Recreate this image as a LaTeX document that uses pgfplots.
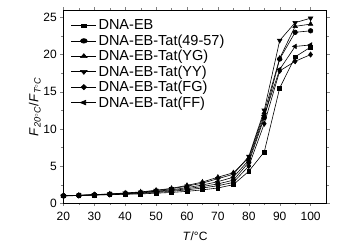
\documentclass[border=0pt]{standalone}
\usepackage{pgfplots}
\pgfplotsset{compat=1.18}
\usepackage{fontspec}
\setmainfont{Liberation Sans}
\setsansfont{Liberation Sans}
\begin{document}
\begin{tikzpicture}
\begin{axis}[name=ax,
  scale only axis, width=263pt, height=193pt,
  xmin=20, xmax=105.2, ymin=0, ymax=26,
  xtick={20,30,...,100}, ytick={0,5,...,25},
  minor x tick num=1, minor y tick num=1,
  tick align=outside, tick pos=both,
  major tick length=3pt, minor tick length=2pt,
  /pgf/number format/assume math mode=true,
  ticklabel style={font=\fontsize{12}{13}\selectfont},
  xticklabel style={yshift=-2pt},
  xlabel={\textit{T}/°C}, ylabel={\textit{F}$_{\mathit{20^{\circ}C}}$/\textit{F}$_{\mathit{T^{\circ}C}}$},
  xlabel style={font=\fontsize{12}{13}\selectfont, yshift=-5pt},
  ylabel style={font=\fontsize{13}{14}\selectfont, yshift=-4pt},
  legend style={draw=none, fill=none, at={(0.025,0.965)}, anchor=north west,
    font=\fontsize{14.5}{15}\selectfont, row sep=-0.6pt, inner sep=1pt},
  legend image post style={xscale=1.45},
  legend cell align=left,
]
\addplot[black, line width=0.6pt, mark=square*, mark size=1.9pt, mark options={solid, fill=black}] coordinates {(20,1.0)(25,1.02)(30,1.1)(35,1.15)(40,1.2)(45,1.25)(50,1.35)(55,1.45)(60,1.6)(65,1.8)(70,2.05)(75,2.5)(80,4.3)(85,6.9)(90,15.5)(95,19.7)(100,21.0)};
\addlegendentry{DNA-EB}
\addplot[black, line width=0.6pt, mark=*, mark size=2.3pt, mark options={solid, fill=black}] coordinates {(20,1.0)(25,1.05)(30,1.12)(35,1.2)(40,1.28)(45,1.38)(50,1.55)(55,1.7)(60,1.95)(65,2.25)(70,2.6)(75,3.1)(80,5.5)(85,11.5)(90,19.4)(95,23.0)(100,23.2)};
\addlegendentry{DNA-EB-Tat(49-57)}
\addplot[black, line width=0.6pt, mark=triangle*, mark size=2.6pt, mark options={solid, fill=black}] coordinates {(20,1.0)(25,1.07)(30,1.16)(35,1.25)(40,1.38)(45,1.52)(50,1.75)(55,2.0)(60,2.4)(65,2.85)(70,3.5)(75,4.1)(80,6.1)(85,12.2)(90,19.5)(95,23.8)(100,24.1)};
\addlegendentry{DNA-EB-Tat(YG)}
\addplot[black, line width=0.6pt, mark=triangle*, mark size=2.6pt, mark options={solid, fill=black, rotate=180}] coordinates {(20,1.0)(25,1.06)(30,1.15)(35,1.23)(40,1.35)(45,1.48)(50,1.7)(55,1.95)(60,2.3)(65,2.7)(70,3.3)(75,3.9)(80,6.3)(85,12.5)(90,21.9)(95,24.3)(100,24.9)};
\addlegendentry{DNA-EB-Tat(YY)}
\addplot[black, line width=0.6pt, mark=diamond*, mark size=2.6pt, mark options={solid, fill=black}] coordinates {(20,1.0)(25,1.04)(30,1.1)(35,1.17)(40,1.24)(45,1.32)(50,1.45)(55,1.6)(60,1.8)(65,2.05)(70,2.35)(75,2.8)(80,5.0)(85,10.7)(90,17.8)(95,19.1)(100,20.0)};
\addlegendentry{DNA-EB-Tat(FG)}
\addplot[black, line width=0.6pt, mark=triangle*, mark size=2.6pt, mark options={solid, fill=black, rotate=90}] coordinates {(20,1.0)(25,1.05)(30,1.13)(35,1.22)(40,1.32)(45,1.45)(50,1.62)(55,1.8)(60,2.1)(65,2.45)(70,2.9)(75,3.5)(80,5.8)(85,11.8)(90,18.0)(95,21.1)(100,21.3)};
\addlegendentry{DNA-EB-Tat(FF)}
\end{axis}
\pgfresetboundingbox
\path[use as bounding box] ([xshift=-63.3pt,yshift=-45pt]ax.south west) rectangle ([xshift=32.3pt,yshift=10pt]ax.north east);
\end{tikzpicture}
\end{document}
